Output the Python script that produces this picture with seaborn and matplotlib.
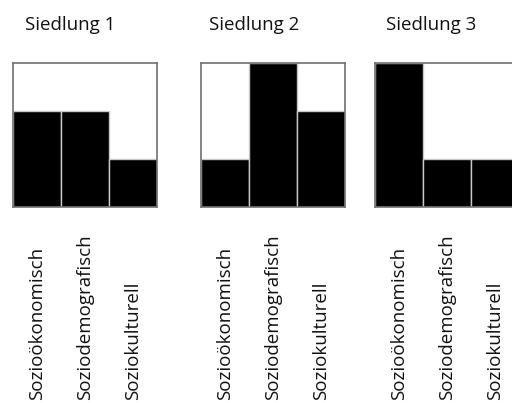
import numpy as np
import pandas as pd
import matplotlib
matplotlib.use("Agg")
import matplotlib.pyplot as plt
import seaborn as sns

# Data
siedlungen = ["Siedlung 1", "Siedlung 2", "Siedlung 3"]
kategorien = ["Sozioökonomisch", "Soziodemografisch", "Soziokulturell"]
werte_s1 = [2, 2, 1]
werte_s2 = [1, 3, 2]
werte_s3 = [3, 1, 1]

sns.set_theme(style="white")
plt.rcParams["font.family"] = ["Open Sans", "DejaVu Sans"]

W, H = 512, 403
fig = plt.figure(figsize=(W / 100, H / 100), dpi=100)

# panel positions in pixels (left, top), size 144x144
lefts = [13, 201, 375]
top_px, size_px = 63, 144
title_x = [25, 209, 386]

for i, (name, werte) in enumerate(zip(siedlungen, [werte_s1, werte_s2, werte_s3])):
    df = pd.DataFrame({"kategorie": kategorien, "wert": werte})
    ax = fig.add_axes([lefts[i] / W, 1 - (top_px + size_px) / H, size_px / W, size_px / H])
    sns.barplot(data=df, x="kategorie", y="wert", color="black", width=1.0,
                edgecolor="#c8c8c8", linewidth=1, saturation=1, ax=ax)
    ax.set_xlim(-0.5, 2.5)
    ax.set_ylim(0, 3)
    ax.set_xlabel("")
    ax.set_ylabel("")
    ax.set_yticks([])
    ax.set_xticks(range(len(kategorien)))
    ax.set_xticklabels(kategorien, rotation=90, fontsize=13.5, color="#111111")
    for lab in ax.get_xticklabels():
        lab.set_va("bottom")
    ax.tick_params(axis="x", length=0, pad=139)
    for sp in ax.spines.values():
        sp.set_color("#707070")
        sp.set_linewidth(1.2)
    fig.text(title_x[i] / W, 1 - 30 / H, name, fontsize=13.5, color="#111111",
             ha="left", va="baseline")

fig.savefig("out.png", dpi=100)
